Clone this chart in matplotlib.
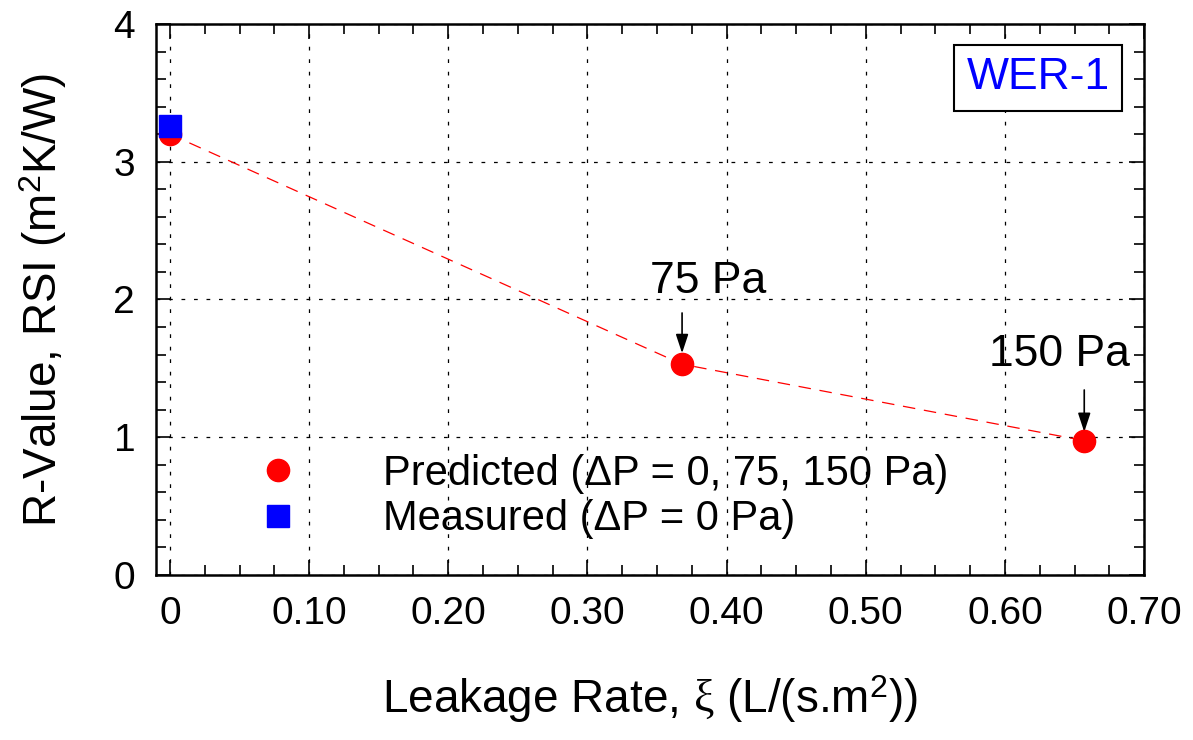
### R-value vs leakage rate, WER-1 wall
import numpy as np
import matplotlib
matplotlib.use('Agg')
import matplotlib.pyplot as plt
from matplotlib.ticker import MultipleLocator, FixedLocator

# data
pred_x = [0.0, 0.368, 0.657]          # leakage rate, L/(s.m2)
pred_y = [3.20, 1.53, 0.975]          # predicted RSI
meas_x = [0.0]
meas_y = [3.26]                       # measured RSI
pressure_labels = ['75 Pa', '150 Pa']
x_ticks = [0, 0.10, 0.20, 0.30, 0.40, 0.50, 0.60, 0.70]
x_tick_labels = ['0', '0.10', '0.20', '0.30', '0.40', '0.50', '0.60', '0.70']
y_ticks = [0, 1, 2, 3, 4]

plt.rcParams['font.family'] = ['Liberation Sans', 'DejaVu Sans']
plt.rcParams['mathtext.fontset'] = 'custom'
plt.rcParams['mathtext.rm'] = 'Liberation Sans'
plt.rcParams['mathtext.it'] = 'Liberation Serif'

fig = plt.figure(figsize=(11.93, 7.40), dpi=100)
ax = fig.add_axes([0.1308, 0.223, 0.8282, 0.7446])

# predicted line + points, measured point on top
ax.plot(pred_x, pred_y, color='red', lw=0.9, linestyle=(0, (10, 7)), zorder=3)
ax.plot(pred_x, pred_y, 'o', color='red', ms=16, mec='red', zorder=4,
        label='Predicted (ΔP = 0, 75, 150 Pa)')
ax.plot(meas_x, meas_y, 's', color='blue', ms=16, mec='blue', zorder=5,
        label='Measured (ΔP = 0 Pa)')

ax.set_xlim(-0.01, 0.70)
ax.set_ylim(0, 4)
ax.xaxis.set_major_locator(FixedLocator(x_ticks))
ax.set_xticklabels(x_tick_labels)
ax.xaxis.set_minor_locator(MultipleLocator(0.025))
ax.yaxis.set_major_locator(FixedLocator(y_ticks))
ax.yaxis.set_minor_locator(MultipleLocator(0.2))
ax.tick_params(which='both', direction='in', top=True, right=True,
               width=1.2, labelsize=28, pad=15)
ax.tick_params(which='major', length=11)
ax.tick_params(which='minor', length=7)
for s in ax.spines.values():
    s.set_linewidth(1.8)

ax.grid(True, which='major', color='black', lw=0.9, linestyle=(0, (3, 7)))

ax.set_xlabel('Leakage Rate, $\\xi$ (L/(s.m$^{\\mathrm{2}}$))', fontsize=33)
ax.set_ylabel('R-Value, RSI (m$^{\\mathrm{2}}$K/W)', fontsize=33)
ax.xaxis.label.set_va('baseline')
ax.xaxis.set_label_coords(0.5, -0.2505)
ax.yaxis.label.set_va('baseline')
ax.yaxis.set_label_coords(-0.1002, 0.5)

# pressure annotations
text_offsets = [(0.019, 0.60), (-0.018, 0.625)]
arrow_gap = [(0.08, 0.372), (0.063, 0.368)]
for i, lab in enumerate(pressure_labels):
    px, py = pred_x[i + 1], pred_y[i + 1]
    ax.annotate('', xy=(px, py + arrow_gap[i][0]), xytext=(px, py + arrow_gap[i][1]),
                arrowprops=dict(arrowstyle='-|>,head_length=1.15,head_width=0.38',
                                color='black', lw=1.2, shrinkA=0, shrinkB=0))
    ax.text(px + text_offsets[i][0], py + text_offsets[i][1], lab, fontsize=32,
            ha='center', va='center')

ax.text(0.893, 0.902, 'WER-1', transform=ax.transAxes, fontsize=32, color='blue',
        ha='center', va='center',
        bbox=dict(boxstyle='square,pad=0.28', fc='white', ec='black', lw=1.5))

ax.legend(loc='center left', bbox_to_anchor=(0.081, 0.1425), frameon=False,
          fontsize=30, handlelength=2, handletextpad=1.52, borderpad=0,
          borderaxespad=0, labelspacing=0.13)

plt.savefig('out.png', dpi=100)
